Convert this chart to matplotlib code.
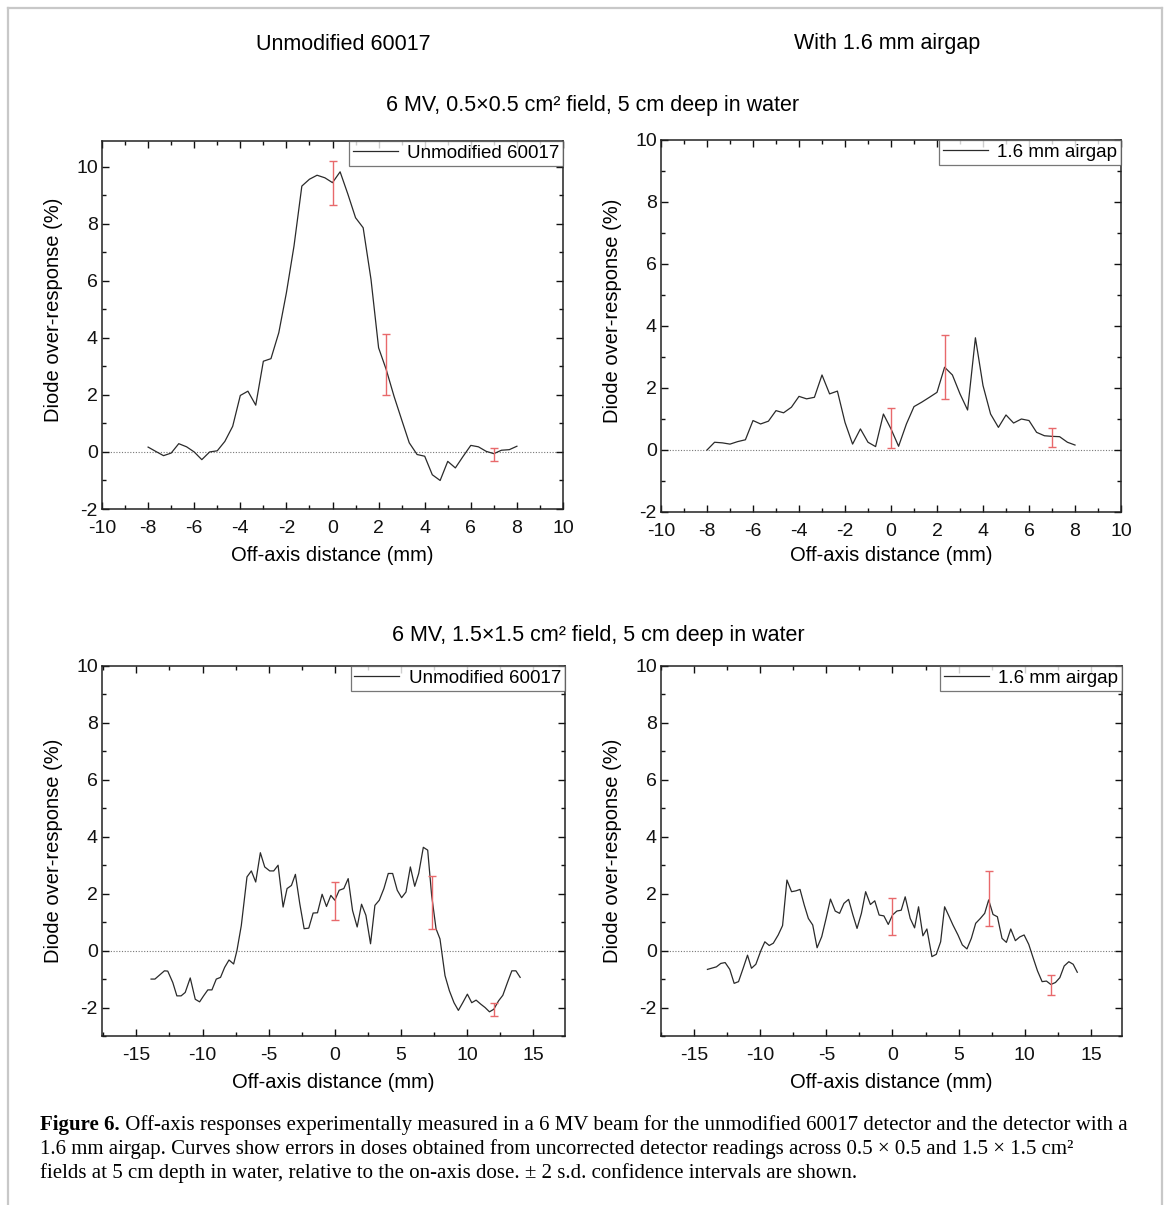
import matplotlib
matplotlib.use("Agg")
import matplotlib.pyplot as plt
from matplotlib.lines import Line2D
from matplotlib.ticker import MultipleLocator

# off-axis distance (mm) and diode over-response (%), 0.5x0.5 cm2 field
x_small = [-8, -7.67, -7.33, -7, -6.67, -6.33, -6, -5.67, -5.33, -5, -4.67, -4.33, -4,
           -3.67, -3.33, -3, -2.67, -2.33, -2, -1.67, -1.33, -1, -0.67, -0.33, 0, 0.33,
           0.67, 1, 1.33, 1.67, 2, 2.33, 2.67, 3, 3.33, 3.67, 4, 4.33, 4.67, 5, 5.33,
           5.67, 6, 6.33, 6.67, 7, 7.33, 7.67, 8]
y_small_std = [0.17, 0.02, -0.13, -0.04, 0.29, 0.18, 0.0, -0.27, 0.0, 0.04, 0.37, 0.9, 1.98,
               2.13, 1.64, 3.18, 3.27, 4.18, 5.58, 7.22, 9.32, 9.56, 9.70, 9.61, 9.44, 9.82,
               9.03, 8.21, 7.86, 6.05, 3.65, 2.89, 1.95, 1.13, 0.32, -0.09, -0.15, -0.8, -1.0,
               -0.33, -0.56, -0.15, 0.23, 0.18, 0.02, -0.06, 0.06, 0.08, 0.2]
y_small_gap = [0, 0.25, 0.23, 0.19, 0.27, 0.33, 0.95, 0.84, 0.93, 1.27, 1.2, 1.38, 1.73,
               1.65, 1.70, 2.42, 1.81, 1.90, 0.89, 0.19, 0.68, 0.25, 0.11, 1.16, 0.68, 0.12,
               0.84, 1.4, 1.54, 1.70, 1.86, 2.67, 2.42, 1.81, 1.29, 3.62, 2.08, 1.16, 0.73,
               1.13, 0.87, 1.0, 0.95, 0.57, 0.46, 0.44, 0.43, 0.25, 0.16]

# 1.5x1.5 cm2 field
x_large_std = [-13.89, -13.6, -12.88, -12.63, -12.25, -11.94, -11.62, -11.31, -10.93, -10.55,
               -10.22, -9.92, -9.6, -9.29, -8.96, -8.64, -8.33, -8.0, -7.65, -7.4, -7.07,
               -6.64, -6.31, -5.98, -5.63, -5.3, -4.92, -4.62, -4.29, -3.91, -3.61, -3.28,
               -2.98, -2.65, -2.32, -1.97, -1.64, -1.31, -0.96, -0.63, -0.3, 0.0, 0.33, 0.68,
               1.01, 1.34, 1.69, 2.02, 2.35, 2.7, 3.03, 3.36, 3.71, 4.04, 4.37, 4.72, 5.05,
               5.38, 5.71, 6.04, 6.34, 6.69, 7.02, 7.32, 7.65, 7.95, 8.33, 8.66, 9.01, 9.34,
               9.67, 10.02, 10.35, 10.68, 11.03, 11.36, 11.69, 12.02, 12.37, 12.7, 13.05,
               13.38, 13.69, 14.01]
y_large_std = [-1.0, -1.0, -0.71, -0.72, -1.12, -1.59, -1.59, -1.47, -0.96, -1.71, -1.80,
               -1.59, -1.38, -1.38, -1.0, -0.94, -0.59, -0.33, -0.47, 0.0, 0.88, 2.59, 2.80,
               2.41, 3.44, 2.94, 2.80, 2.80, 3.0, 1.53, 2.18, 2.29, 2.68, 1.65, 0.77, 0.79,
               1.32, 1.33, 1.98, 1.55, 1.94, 1.77, 2.12, 2.18, 2.53, 1.41, 0.83, 1.63, 1.24,
               0.24, 1.59, 1.77, 2.18, 2.71, 2.71, 2.12, 1.86, 2.06, 2.94, 2.26, 2.71, 3.63,
               3.53, 1.94, 0.77, 0.41, -0.88, -1.41, -1.83, -2.1, -1.83, -1.53, -1.83, -1.74,
               -1.88, -2.0, -2.15, -2.06, -1.77, -1.57, -1.12, -0.71, -0.71, -0.94]
x_large_gap = [-13.99, -13.31, -12.98, -12.65, -12.3, -11.97, -11.64, -11.29, -10.96, -10.66,
               -10.33, -9.95, -9.65, -9.32, -9.01, -8.64, -8.31, -7.98, -7.63, -7.3, -6.99,
               -6.67, -6.36, -6.03, -5.7, -5.35, -5.02, -4.69, -4.33, -4.0, -3.67, -3.32,
               -2.99, -2.68, -2.35, -2.03, -1.67, -1.34, -1.01, -0.65, -0.32, 0.0, 0.33, 0.66,
               0.96, 1.34, 1.67, 1.97, 2.3, 2.6, 2.98, 3.31, 3.64, 3.94, 4.27, 4.57, 4.95,
               5.28, 5.63, 5.96, 6.29, 6.64, 6.97, 7.27, 7.6, 7.93, 8.28, 8.61, 8.94, 9.29,
               9.62, 9.95, 10.3, 10.63, 10.96, 11.31, 11.64, 11.97, 12.32, 12.65, 12.98,
               13.33, 13.66, 13.97]
y_large_gap = [-0.66, -0.57, -0.45, -0.42, -0.66, -1.15, -1.09, -0.62, -0.16, -0.62, -0.48,
               0.0, 0.31, 0.18, 0.26, 0.55, 0.88, 2.48, 2.07, 2.10, 2.15, 1.6, 1.13, 0.90,
               0.10, 0.49, 1.13, 1.81, 1.39, 1.31, 1.66, 1.80, 1.25, 0.78, 1.31, 2.07, 1.62,
               1.75, 1.25, 1.22, 0.92, 1.25, 1.39, 1.42, 1.89, 1.13, 0.80, 1.54, 0.52, 0.76,
               -0.21, -0.13, 0.31, 1.54, 1.21, 0.90, 0.55, 0.20, 0.06, 0.43, 0.96, 1.13, 1.31,
               1.78, 1.27, 1.19, 0.43, 0.29, 0.76, 0.35, 0.48, 0.55, 0.22, -0.25, -0.71, -1.09,
               -1.07, -1.19, -1.12, -0.95, -0.54, -0.39, -0.48, -0.76]

# +/- 2 s.d. error bars: position, mean, half-width
err_x_small = [0, 2.33, 7]
err_y_small_std = [9.42, 3.08, -0.08]
err_h_small_std = [0.77, 1.07, 0.22]
err_y_small_gap = [0.71, 2.68, 0.41]
err_h_small_gap = [0.65, 1.03, 0.30]
err_x_large_std = [0, 7.33, 12]
err_y_large_std = [1.74, 1.70, -2.07]
err_h_large_std = [0.66, 0.93, 0.24]
err_x_large_gap = [0, 7.27, 12]
err_y_large_gap = [1.20, 1.83, -1.21]
err_h_large_gap = [0.66, 0.95, 0.35]

W, H = 1170, 1205
plt.rcParams["font.family"] = "Liberation Sans"
plt.rcParams["axes.unicode_minus"] = False

TICK_SIZE = 14
LABEL_SIZE = 14.5
HEAD_SIZE = 15.5


def px_axes(fig, left, top, right, bottom):
    return fig.add_axes([left / W, 1 - bottom / H, (right - left) / W, (bottom - top) / H])


def draw_panel(ax, x, y, ex, ey, eh, label, xlim, ylim, xmaj, xmin, ylab_y, xlab_y):
    ax.axhline(0, color="#777777", lw=0.8, ls=(0, (1, 1.5)), zorder=1)
    ax.plot(x, y, color="#2a2a2a", lw=0.9, label=label, zorder=3)
    ax.errorbar(ex, ey, yerr=eh, fmt="none", ecolor="#e8696b", elinewidth=1.0,
                capsize=3, capthick=1.0, zorder=4)
    ax.set_xlim(*xlim)
    ax.set_ylim(*ylim)
    ax.xaxis.set_major_locator(MultipleLocator(xmaj))
    ax.xaxis.set_minor_locator(MultipleLocator(xmin))
    ax.yaxis.set_major_locator(MultipleLocator(2))
    ax.yaxis.set_minor_locator(MultipleLocator(1))
    ax.tick_params(which="both", direction="in", top=True, right=True, width=1.0,
                   labelsize=TICK_SIZE, colors="#111111")
    ax.tick_params(which="major", length=5)
    ax.tick_params(which="minor", length=3)
    ax.tick_params(axis="x", pad=8)
    ax.tick_params(axis="y", pad=3)
    for s in ax.spines.values():
        s.set_linewidth(1.1)
        s.set_color("#222222")
    ax.set_ylabel("Diode over-response (%)", fontsize=LABEL_SIZE)
    ax.set_xlabel("Off-axis distance (mm)", fontsize=LABEL_SIZE)
    ax.yaxis.set_label_coords(-0.085, ylab_y)
    ax.xaxis.set_label_coords(0.5, xlab_y)
    leg = ax.legend(loc="upper right", borderaxespad=0, fancybox=False, fontsize=13.5,
                    handlelength=2.4, handletextpad=0.5, borderpad=0.2)
    leg.get_frame().set_edgecolor("#555555")
    leg.get_frame().set_linewidth(0.9)


fig = plt.figure(figsize=(W / 100, H / 100), dpi=100)

ax1 = px_axes(fig, 102, 141, 563, 509)
draw_panel(ax1, x_small, y_small_std, err_x_small, err_y_small_std, err_h_small_std,
           "Unmodified 60017", (-10, 10), (-2, 10.9), 2, 1, 0.54, -0.1)

ax2 = px_axes(fig, 661, 140, 1121, 512)
draw_panel(ax2, x_small, y_small_gap, err_x_small, err_y_small_gap, err_h_small_gap,
           "1.6 mm airgap", (-10, 10), (-2, 10), 2, 1, 0.54, -0.092)

ax3 = px_axes(fig, 102, 666, 565, 1036)
draw_panel(ax3, x_large_std, y_large_std, err_x_large_std, err_y_large_std, err_h_large_std,
           "Unmodified 60017", (-17.6, 17.4), (-3, 10), 5, 2.5, 0.5, -0.1)

ax4 = px_axes(fig, 661, 666, 1122, 1036)
draw_panel(ax4, x_large_gap, y_large_gap, err_x_large_gap, err_y_large_gap, err_h_large_gap,
           "1.6 mm airgap", (-17.5, 17.35), (-3, 10), 5, 2.5, 0.5, -0.1)

# column and row headings
fig.text(343 / W, 1 - 44 / H, "Unmodified 60017", ha="center", va="center", fontsize=HEAD_SIZE)
fig.text(887 / W, 1 - 44 / H, "With 1.6 mm airgap", ha="center", va="center", fontsize=HEAD_SIZE)
fig.text(593 / W, 1 - 106 / H, "6 MV, 0.5\u00d70.5 cm\u00b2 field, 5 cm deep in water",
         ha="center", va="center", fontsize=HEAD_SIZE)
fig.text(598 / W, 1 - 635 / H, "6 MV, 1.5\u00d71.5 cm\u00b2 field, 5 cm deep in water",
         ha="center", va="center", fontsize=HEAD_SIZE)

# caption, bold figure number followed by the running text
cap_font = "Liberation Serif"
cap_size = 15
bold = fig.text(40 / W, 1 - 1125 / H, "Figure 6.", fontfamily=cap_font, fontsize=cap_size,
                fontweight="bold", ha="left", va="center")
ax1.annotate(" Off-axis responses experimentally measured in a 6 MV beam for the "
             "unmodified 60017 detector and the detector with a",
             xy=(1, 0), xycoords=bold, ha="left", va="bottom",
             fontfamily=cap_font, fontsize=cap_size, annotation_clip=False)
fig.text(40 / W, 1 - 1149 / H, "1.6 mm airgap. Curves show errors in doses obtained from "
         "uncorrected detector readings across 0.5 \u00d7 0.5 and 1.5 \u00d7 1.5 cm\u00b2",
         fontfamily=cap_font, fontsize=cap_size, ha="left", va="center")
fig.text(40 / W, 1 - 1173 / H, "fields at 5 cm depth in water, relative to the on-axis dose. "
         "\u00b1 2 s.d. confidence intervals are shown.",
         fontfamily=cap_font, fontsize=cap_size, ha="left", va="center")

# page frame
frame_kw = dict(color="#c8c8c8", lw=1.6, transform=fig.transFigure)
fig.add_artist(Line2D([8 / W, 1162 / W], [1 - 8 / H, 1 - 8 / H], **frame_kw))
fig.add_artist(Line2D([8 / W, 8 / W], [1 - 8 / H, 0], **frame_kw))
fig.add_artist(Line2D([1162 / W, 1162 / W], [1 - 8 / H, 0], **frame_kw))

fig.savefig("out.png", dpi=100)
